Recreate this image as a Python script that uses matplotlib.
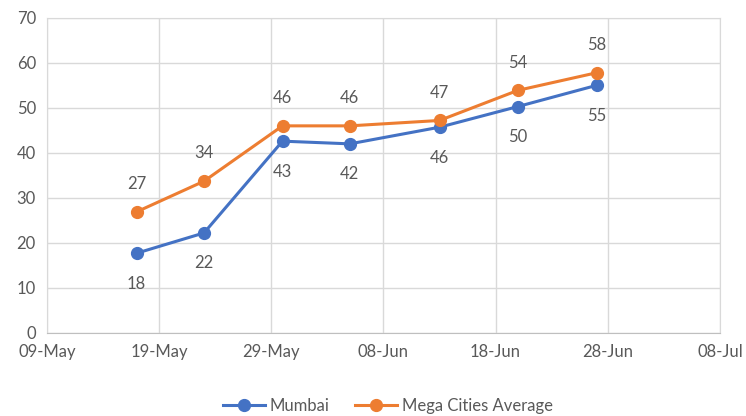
import matplotlib
matplotlib.use('Agg')
import matplotlib.pyplot as plt
import matplotlib.dates as mdates
import numpy as np
import datetime as dt

# Data
dates = ['2020-05-17', '2020-05-23', '2020-05-30', '2020-06-05',
         '2020-06-13', '2020-06-20', '2020-06-27']
mumbai = [17.7, 22.2, 42.6, 42.0, 45.7, 50.3, 55.0]
mega_avg = [26.9, 33.7, 46.0, 46.0, 47.2, 53.9, 57.8]
tick_dates = ['2020-05-09', '2020-05-19', '2020-05-29', '2020-06-08',
              '2020-06-18', '2020-06-28', '2020-07-08']

plt.rcParams['font.family'] = ['Lato', 'DejaVu Sans']
text_color = '#595959'
grid_color = '#D9D9D9'

x = [dt.datetime.strptime(d, '%Y-%m-%d') for d in dates]
ticks = [dt.datetime.strptime(d, '%Y-%m-%d') for d in tick_dates]

fig = plt.figure(figsize=(7.46, 4.16), dpi=100)
ax = fig.add_axes([0.063, 0.2, 0.902, 0.757])

ax.plot(x, mumbai, color='#4472C4', linewidth=2.2, marker='o', markersize=8.5,
        label='Mumbai', zorder=3)
ax.plot(x, mega_avg, color='#ED7D31', linewidth=2.2, marker='o', markersize=8.5,
        label='Mega Cities Average', zorder=3)

for xi, v in zip(x, mumbai):
    ax.annotate(f'{v:.0f}', (xi, v), xytext=(0, -22), textcoords='offset points',
                ha='center', va='center', fontsize=12, color=text_color)
for xi, v in zip(x, mega_avg):
    ax.annotate(f'{v:.0f}', (xi, v), xytext=(0, 20), textcoords='offset points',
                ha='center', va='center', fontsize=12, color=text_color)

ax.set_xlim(ticks[0], ticks[-1])
ax.set_ylim(0, 70)
ax.set_xticks(ticks)
ax.xaxis.set_major_formatter(mdates.DateFormatter('%d-%b'))
ax.set_yticks(np.arange(0, 71, 10))

ax.grid(True, color=grid_color, linewidth=1)
ax.set_axisbelow(True)
for side in ['top', 'right', 'left']:
    ax.spines[side].set_color(grid_color)
ax.spines['bottom'].set_color('#BFBFBF')
ax.tick_params(axis='both', length=0, labelsize=12, colors=text_color, pad=8)

leg = fig.legend(loc='center', bbox_to_anchor=(0.52, 0.025), ncol=2, frameon=False,
                 fontsize=12, handlelength=2.5, columnspacing=1.5, handletextpad=0.3)
for t in leg.get_texts():
    t.set_color(text_color)

fig.savefig('out.png', dpi=100)
